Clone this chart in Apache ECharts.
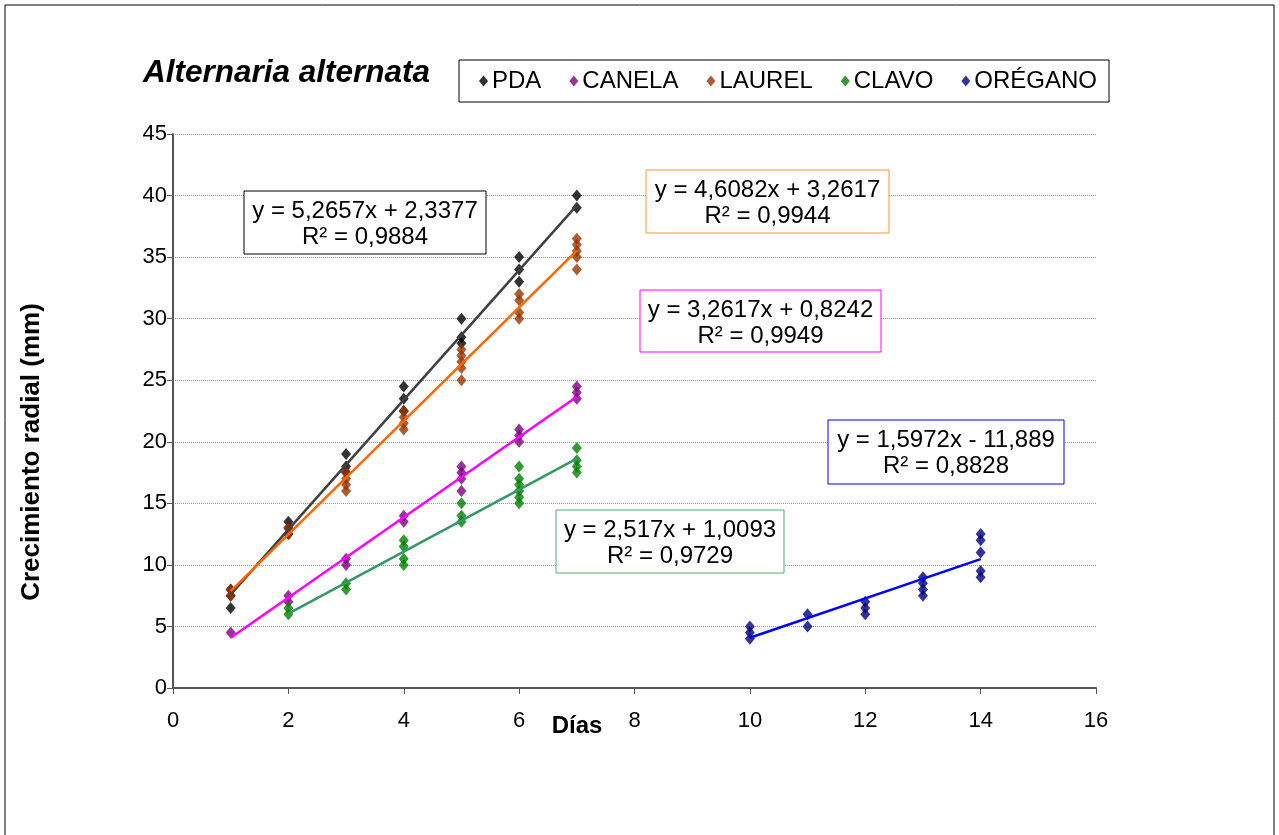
<!DOCTYPE html>
<html>
<head>
<meta charset="utf-8">
<script src="https://cdn.jsdelivr.net/npm/echarts@6/dist/echarts.min.js"></script>
<style>html,body{margin:0;padding:0;background:#fff;}#c{width:1279px;height:835px;}</style>
</head>
<body>
<div id="c"></div>
<script>
// ---- data ----
const seriesNames = ['PDA', 'CANELA', 'LAUREL', 'CLAVO', 'ORÉGANO'];
const pdaData = [[1,6.5],[1,7.5],[1,8],[2,13.5],[2,13],[2,12.5],[3,19],[3,18],[3,17.5],[4,24.5],[4,23.5],[4,22.5],[5,30],[5,28.5],[5,28],[6,35],[6,34],[6,33],[7,40],[7,39]];
const canelaData = [[1,4.5],[2,7.5],[2,7],[3,10.5],[3,10],[4,14],[4,13.5],[5,18],[5,17.5],[5,17],[5,16],[6,21],[6,20.5],[6,20],[7,24.5],[7,24],[7,23.5]];
const laurelData = [[1,8],[1,7.5],[2,13],[2,12.5],[3,17.5],[3,17],[3,16.5],[3,16],[4,22.5],[4,22],[4,21.5],[4,21],[5,27.5],[5,27],[5,26.5],[5,26],[5,25],[6,32],[6,31.5],[6,30.5],[6,30],[7,36.5],[7,36],[7,35.5],[7,35],[7,34]];
const clavoData = [[2,6.5],[2,6],[3,8.5],[3,8],[4,12],[4,11.5],[4,10.5],[4,10],[5,15],[5,14],[5,13.5],[6,18],[6,17],[6,16.5],[6,16],[6,15.5],[6,15],[7,19.5],[7,18.5],[7,18],[7,17.5]];
const oreganoData = [[10,5],[10,4.5],[10,4],[11,6],[11,5],[12,7],[12,6.5],[12,6],[13,9],[13,8.5],[13,8],[13,7.5],[14,12.5],[14,12],[14,11],[14,9.5],[14,9]];
// trendline coefficients [slope, intercept] and x-range, as printed on the chart
const trendSlope = [5.2657, 3.2617, 4.6082, 2.517, 1.5972];
const trendIntercept = [2.3377, 0.8242, 3.2617, 1.0093, -11.889];
const trendRange = [[1,7],[1,7],[1,7],[2,7],[10,14]];
const trendLabels = [
  ['y = 5,2657x + 2,3377', 'R² = 0,9884'],
  ['y = 3,2617x + 0,8242', 'R² = 0,9949'],
  ['y = 4,6082x + 3,2617', 'R² = 0,9944'],
  ['y = 2,517x + 1,0093', 'R² = 0,9729'],
  ['y = 1,5972x - 11,889', 'R² = 0,8828']
];
const xTicks = [0, 16, 2];
const yTicks = [0, 45, 5];
const titleText = 'Alternaria alternata';
const xAxisTitle = 'Días';
const yAxisTitle = 'Crecimiento radial (mm)';

// ---- styles ----
const FONT = '"Liberation Sans", Arial, sans-serif';
const markerColors = ['#000000', '#800080', '#993300', '#008000', '#000080'];
const lineColors = ['#404040', '#ff00ff', '#ff6600', '#339966', '#0000ff'];
const boxBorder = ['#000000', '#ff00ff', '#ff9933', '#55aa77', '#0000ff'];
const boxRects = [[244,191,242,63],[640,290,241,62],[646,170,243,63],[556,510,228,63],[828,420,236,64]];

const allData = [pdaData, canelaData, laurelData, clavoData, oreganoData];
const series = [];
allData.forEach((d, i) => {
  series.push({
    name: seriesNames[i], type: 'scatter', data: d,
    symbol: 'diamond', symbolSize: [10, 12],
    itemStyle: { color: markerColors[i] }, z: 2, animation: false
  });
});
allData.forEach((d, i) => {
  const r = trendRange[i];
  series.push({
    name: seriesNames[i] + ' trend', type: 'line',
    data: r.map(x => [x, trendSlope[i] * x + trendIntercept[i]]),
    showSymbol: false, symbol: 'none',
    lineStyle: { color: lineColors[i], width: 2.5 }, z: 3, animation: false, silent: true
  });
});

const graphics = [
  { type: 'rect', shape: { x: 5, y: 5, width: 1269, height: 900 }, style: { fill: 'none', stroke: '#000', lineWidth: 1 }, silent: true },
  { type: 'text', x: 143, y: 73, style: { text: titleText, font: 'italic bold 31.5px ' + FONT, fill: '#000', verticalAlign: 'middle' } },
  { type: 'text', x: 32, y: 452, rotation: Math.PI / 2, style: { text: yAxisTitle, font: 'bold 26px ' + FONT, fill: '#000', align: 'center', verticalAlign: 'middle' } },
  { type: 'text', x: 577, y: 726, style: { text: xAxisTitle, font: 'bold 24px ' + FONT, fill: '#000', align: 'center', verticalAlign: 'middle' }, z: 11 }
];
boxRects.forEach((b, i) => {
  graphics.push({ type: 'rect', shape: { x: b[0], y: b[1], width: b[2], height: b[3] }, style: { fill: '#fff', stroke: boxBorder[i], lineWidth: 1 }, z: 10 });
  graphics.push({ type: 'text', x: b[0] + b[2] / 2, y: b[1] + 20, style: { text: trendLabels[i][0], font: '24px ' + FONT, fill: '#000', align: 'center', verticalAlign: 'middle' }, z: 11 });
  graphics.push({ type: 'text', x: b[0] + b[2] / 2, y: b[1] + 46, style: { text: trendLabels[i][1], font: '24px ' + FONT, fill: '#000', align: 'center', verticalAlign: 'middle' }, z: 11 });
});

const chart = echarts.init(document.getElementById('c'));
chart.setOption({
  backgroundColor: '#fff',
  animation: false,
  textStyle: { fontFamily: FONT },
  grid: { left: 173, top: 134, right: 183, bottom: 147 },
  legend: {
    data: seriesNames, left: 459, top: 60,
    padding: [9, 12, 9, 20], itemGap: 28,
    itemWidth: 9, itemHeight: 11, icon: 'diamond',
    borderColor: '#000', borderWidth: 1,
    textStyle: { fontSize: 24, color: '#000', padding: [2, 0, 0, -1] }
  },
  xAxis: {
    type: 'value', min: xTicks[0], max: xTicks[1], interval: xTicks[2],
    axisLine: { lineStyle: { color: '#555', width: 2 } },
    axisTick: { show: true, length: 6, lineStyle: { color: '#555' } },
    axisLabel: { fontSize: 22, color: '#000', margin: 22 },
    splitLine: { show: false }
  },
  yAxis: {
    type: 'value', min: yTicks[0], max: yTicks[1], interval: yTicks[2],
    axisLine: { show: true, lineStyle: { color: '#555', width: 2 } },
    axisTick: { show: true, length: 6, lineStyle: { color: '#555' } },
    axisLabel: { fontSize: 22, color: '#000', margin: 6 },
    splitLine: { show: true, lineStyle: { color: '#999', type: 'dotted', width: 1 } }
  },
  series: series,
  graphic: graphics
});
</script>
</body>
</html>
